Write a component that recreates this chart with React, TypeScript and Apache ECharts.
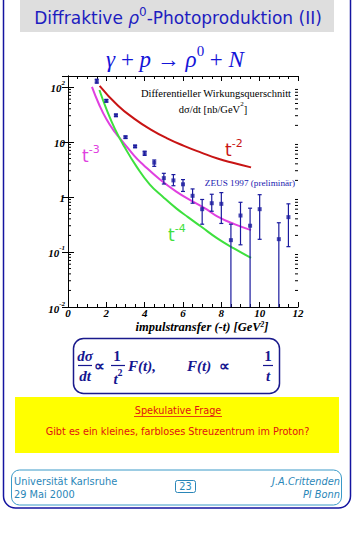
import React, { useEffect, useRef } from 'react';
import * as echarts from 'echarts';

// ZEUS 1997 (preliminär) data points: -t [GeV^2], dσ/dt [nb/GeV^2]
const tPoints = [1.5, 2, 2.5, 3, 3.5, 4, 4.5, 5, 5.5, 6, 6.5, 7, 7.5, 8, 8.5, 9, 9.5, 10, 11, 11.5];
const dsdt = [127, 56, 30.5, 12.2, 8.3, 6.3, 4.2, 2.2, 2.0, 1.7, 1.05, 0.6, 0.77, 0.75, 0.164, 0.46, 0.3, 0.6, 0.171, 0.43];
const errLow = [117, 53, 29, 11.6, 7.9, 5.7, 3.6, 1.72, 1.6, 1.26, 0.77, 0.32, 0.55, 0.33, 0.01, 0.135, 0.01, 0.17, 0.01, 0.125];
const errHigh = [138, 59, 32, 12.8, 8.7, 6.8, 4.7, 2.69, 2.55, 2.07, 1.4, 0.9, 1.12, 1.2, 0.32, 0.8, 0.625, 1.1, 0.34, 0.75];

// curve t^-2 (red)
const t2T = [1.65, 2.6, 3.45, 4.3, 5.2, 6.05, 6.95, 7.8, 8.7, 9.55];
const t2V = [105, 46, 26.6, 17, 11.5, 8.5, 6.4, 5.0, 4.1, 3.45];
// curve t^-3 (magenta)
const t3T = [1.25, 1.6, 2.0, 2.45, 2.89, 3.46, 3.91, 4.78, 5.65, 6.52, 7.22, 7.81, 8.68, 9.55];
const t3V = [100, 50, 26, 15, 9.75, 5.6, 3.9, 2.1, 1.25, 0.82, 0.6, 0.44, 0.32, 0.25];
// curve t^-4 (green)
const t4T = [1.64, 2.0, 2.44, 2.96, 3.57, 4.26, 4.96, 5.65, 6.26, 6.94, 7.81, 8.68, 9.55];
const t4V = [88, 40, 17.5, 8.0, 3.6, 1.7, 1.0, 0.62, 0.43, 0.29, 0.175, 0.115, 0.078];

const xTicks = [0, 2, 4, 6, 8, 10, 12];
const yMin = 0.01;
const yMax = 158;

const SERIF = "'Liberation Serif', 'Times New Roman', serif";
const SANS = "'DejaVu Sans', Verdana, sans-serif";
const DATA_BLUE = '#1a1a9e';

function zip(a: number[], b: number[]) {
  return a.map((v, i) => [v, b[i]]);
}

// minor tick positions of the log axis (2..9 per decade)
const minorVals: number[] = [];
for (let d = -2; d <= 2; d++) {
  for (let k = 2; k <= 9; k++) {
    const v = k * Math.pow(10, d);
    if (v < yMax) minorVals.push(v);
  }
}

function yLabel(v: number) {
  const e = Math.round(Math.log10(v));
  const p = Math.pow(10, e);
  if (Math.abs(v - p) / p > 1e-6) return '';
  if (e === 0) return '{b|1}';
  if (e === 1) return '{b|10}';
  return '{b|10}{s|' + e + '}';
}

const labelRich = {
  b: { fontFamily: SERIF, fontStyle: 'italic', fontWeight: 'bold', fontSize: 11, lineHeight: 14, verticalAlign: 'bottom', color: '#000' },
  s: { fontFamily: SERIF, fontStyle: 'italic', fontWeight: 'bold', fontSize: 7, lineHeight: 8, verticalAlign: 'top', color: '#000' },
};

function supText(x: number, y: number, text: string, color: string, size: number, supSize: number, family: string, align = 'left', extra: any = {}, lh = 4) {
  return {
    type: 'text',
    x,
    y,
    silent: true,
    style: {
      text,
      align,
      verticalAlign: 'middle',
      fill: color,
      rich: {
        n: { fontFamily: family, fontSize: size, fill: color, lineHeight: size + lh, verticalAlign: 'bottom', ...extra },
        i: { fontFamily: family, fontSize: size, fill: color, fontStyle: 'italic', lineHeight: size + lh, verticalAlign: 'bottom', ...extra },
        s: { fontFamily: family, fontSize: supSize, fill: color, lineHeight: supSize + 1, verticalAlign: 'top', ...extra },
      },
    },
  };
}

function plainText(x: number, y: number, text: string, color: string, size: number, family: string, align = 'center', extra: any = {}) {
  return {
    type: 'text',
    x,
    y,
    silent: true,
    style: { text, fill: color, fontSize: size, fontFamily: family, align, verticalAlign: 'middle', ...extra },
  };
}

function hline(x1: number, x2: number, y: number, color: string, w = 1) {
  return { type: 'line', silent: true, shape: { x1, y1: y, x2, y2: y }, style: { stroke: color, lineWidth: w } };
}

const FORM = '#161690';
const formFont = { fontWeight: 'bold', fontStyle: 'italic' };
const TEAL = '#2a86b8';
const RED_TXT = '#e01010';

export default function App() {
  const ref = useRef<HTMLDivElement>(null);
  useEffect(() => {
    const chart = echarts.init(ref.current!, null, { renderer: 'svg' });
    const axisBlack = { color: '#000', width: 1 };
    const option: any = {
      animation: false,
      backgroundColor: '#fff',
      grid: { left: 68, top: 76, width: 230, height: 231 },
      xAxis: [
        {
          type: 'value', min: xTicks[0], max: xTicks[xTicks.length - 1], interval: 2, position: 'bottom',
          axisLine: { show: true, lineStyle: axisBlack },
          axisTick: { inside: true, length: 5, lineStyle: axisBlack },
          minorTick: { show: true, splitNumber: 4, length: 3, lineStyle: axisBlack },
          splitLine: { show: false },
          axisLabel: { margin: 0, fontFamily: SERIF, fontStyle: 'italic', fontWeight: 'bold', fontSize: 11, lineHeight: 11, color: '#000' },
        },
        {
          type: 'value', min: xTicks[0], max: xTicks[xTicks.length - 1], interval: 2, position: 'top',
          axisLine: { show: true, lineStyle: axisBlack },
          axisTick: { inside: true, length: 5, lineStyle: axisBlack },
          minorTick: { show: true, splitNumber: 4, length: 3, lineStyle: axisBlack },
          splitLine: { show: false },
          axisLabel: { show: false },
        },
      ],
      yAxis: [
        {
          type: 'log', min: yMin, max: yMax, position: 'left',
          axisLine: { show: true, lineStyle: axisBlack },
          axisTick: { inside: true, length: 6, lineStyle: axisBlack },
          splitLine: { show: false },
          axisLabel: { margin: 3, formatter: yLabel, rich: labelRich, showMaxLabel: false },
        },
        {
          type: 'log', min: yMin, max: yMax, position: 'right',
          axisLine: { show: true, lineStyle: axisBlack },
          axisTick: { inside: true, length: 6, lineStyle: axisBlack },
          splitLine: { show: false },
          axisLabel: { show: false },
        },
      ],
      series: [
        {
          type: 'line', data: zip(t2T, t2V), smooth: true, showSymbol: false, symbol: 'none',
          lineStyle: { color: '#c81414', width: 2 }, z: 2,
        },
        {
          type: 'line', data: zip(t3T, t3V), smooth: true, showSymbol: false, symbol: 'none',
          lineStyle: { color: '#e040e0', width: 2 }, z: 2,
        },
        {
          type: 'line', data: zip(t4T, t4V), smooth: true, showSymbol: false, symbol: 'none',
          lineStyle: { color: '#3ee03e', width: 2 }, z: 2,
        },
        {
          type: 'custom',
          data: tPoints.map((t, i) => [t, errLow[i], errHigh[i]]),
          encode: { x: 0, y: [1, 2] },
          z: 3,
          silent: true,
          renderItem: (params: any, api: any) => {
            const x = api.value(0);
            const lo = api.value(1);
            const hi = api.value(2);
            const p1 = api.coord([x, lo]);
            const p2 = api.coord([x, hi]);
            const st = { stroke: DATA_BLUE, lineWidth: 1.2 };
            const children: any[] = [
              { type: 'line', shape: { x1: p1[0], y1: p1[1], x2: p2[0], y2: p2[1] }, style: st },
              { type: 'line', shape: { x1: p2[0] - 2, y1: p2[1], x2: p2[0] + 2, y2: p2[1] }, style: st },
            ];
            if (lo > yMin) {
              children.push({ type: 'line', shape: { x1: p1[0] - 2, y1: p1[1], x2: p1[0] + 2, y2: p1[1] }, style: st });
            }
            return { type: 'group', children };
          },
        },
        {
          type: 'scatter', data: zip(tPoints, dsdt), symbol: 'rect', symbolSize: 4,
          itemStyle: { color: DATA_BLUE }, z: 4,
        },
        {
          type: 'custom',
          data: minorVals.map((v) => [xTicks[0], v]),
          encode: { x: 0, y: 1 },
          silent: true,
          z: 5,
          renderItem: (params: any, api: any) => {
            const v = api.value(1);
            const pl = api.coord([xTicks[0], v]);
            const pr = api.coord([xTicks[xTicks.length - 1], v]);
            const st = { stroke: '#000', lineWidth: 1 };
            return {
              type: 'group',
              children: [
                { type: 'line', shape: { x1: pl[0], y1: pl[1], x2: pl[0] + 3, y2: pl[1] }, style: st },
                { type: 'line', shape: { x1: pr[0] - 3, y1: pr[1], x2: pr[0], y2: pr[1] }, style: st },
              ],
            };
          },
        },
      ],
      graphic: [
        // outer frame
        { type: 'rect', silent: true, shape: { x: 3.5, y: -14, width: 347, height: 522, r: 12 }, style: { fill: 'none', stroke: '#1414a0', lineWidth: 1.5 } },
        // title bar
        { type: 'rect', silent: true, shape: { x: 20, y: 0, width: 314, height: 32 }, style: { fill: '#dedede' } },
        supText(178, 16, '{n|Diffraktive }{i|ρ}{s|0}{n|-Photoproduktion (II)}', '#1d1dc0', 17, 12, SANS, 'center'),
        // reaction
        supText(175, 57, '{i|γ}{n| + }{i|p}{n| → }{i|ρ}{s|0}{n| + }{i|N}', '#1414d8', 23, 15, SERIF, 'center'),
        // in-plot annotations
        plainText(216, 93, 'Differentieller Wirkungsquerschnitt', '#000', 10.5, SERIF),
        supText(213, 108, '{n|dσ/dt [nb/GeV}{s|2}{n|]}', '#000', 10.5, 7, SERIF, 'center'),
        supText(225, 148, '{n|t}{s|-2}', '#c81414', 17, 11, SANS, 'left'),
        supText(82, 154, '{n|t}{s|-3}', '#e040e0', 17, 11, SANS, 'left'),
        supText(168, 233, '{n|t}{s|-4}', '#3ee03e', 17, 11, SANS, 'left'),
        plainText(250, 183, 'ZEUS 1997 (preliminär)', '#2020b0', 9.2, SERIF),
        // x axis name
        supText(202, 327, '{n|impulstransfer (-t) [GeV}{s|2}{n|]}', '#000', 12.5, 7.5, SERIF, 'center', { fontWeight: 'bold', fontStyle: 'italic' }, 1),
        // formula box
        { type: 'rect', silent: true, shape: { x: 73.5, y: 338.5, width: 206, height: 55, r: 10 }, style: { fill: 'none', stroke: '#1a1a8c', lineWidth: 1.5 } },
        plainText(85, 356, 'dσ', FORM, 15, SERIF, 'center', formFont),
        hline(78, 92, 365.5, FORM, 1.2),
        plainText(85, 376, 'dt', FORM, 15, SERIF, 'center', formFont),
        plainText(99, 366, '∝', FORM, 15, SERIF, 'center', { fontWeight: 'bold' }),
        plainText(117, 356, '1', FORM, 15, SERIF, 'center', { fontWeight: 'bold' }),
        hline(111, 125, 365.5, FORM, 1.2),
        supText(118, 377, '{i|t}{s|2}', FORM, 15, 10, SERIF, 'center', { fontWeight: 'bold' }),
        plainText(128, 366, 'F(t),', FORM, 15, SERIF, 'left', formFont),
        plainText(187, 366, 'F(t)', FORM, 15, SERIF, 'left', formFont),
        plainText(224, 366, '∝', FORM, 15, SERIF, 'center', { fontWeight: 'bold' }),
        plainText(268, 356, '1', FORM, 15, SERIF, 'center', { fontWeight: 'bold' }),
        hline(263, 273, 365.5, FORM, 1.2),
        plainText(268, 376, 't', FORM, 15, SERIF, 'center', formFont),
        // yellow box
        { type: 'rect', silent: true, shape: { x: 15, y: 397, width: 324, height: 56 }, style: { fill: '#ffff00' } },
        plainText(178, 410.5, 'Spekulative Frage', RED_TXT, 9.7, SANS),
        hline(134, 222, 416.5, RED_TXT, 0.8),
        plainText(177.5, 431.5, 'Gibt es ein kleines, farbloses Streuzentrum im Proton?', RED_TXT, 9.7, SANS),
        // footer
        { type: 'rect', silent: true, shape: { x: 11.5, y: 470, width: 330, height: 35, r: 8 }, style: { fill: 'none', stroke: '#3a9ac8', lineWidth: 1 } },
        plainText(14, 481.5, 'Universität Karlsruhe', TEAL, 9.8, SANS, 'left'),
        plainText(14, 494.5, '29 Mai 2000', TEAL, 9.8, SANS, 'left'),
        { type: 'rect', silent: true, shape: { x: 175.5, y: 480.5, width: 20, height: 12, r: 2 }, style: { fill: 'none', stroke: TEAL, lineWidth: 1 } },
        plainText(185.5, 486.5, '23', TEAL, 9.8, SANS),
        plainText(340, 481.5, 'J.A.Crittenden', TEAL, 9.8, SANS, 'right', { fontStyle: 'italic' }),
        plainText(340, 494.5, 'PI Bonn', TEAL, 9.8, SANS, 'right', { fontStyle: 'italic' }),
      ],
    };
    chart.setOption(option);
    return () => chart.dispose();
  }, []);
  return (
    <div
      ref={ref}
      style={{ position: 'absolute', left: 0, top: 0, width: 363, height: 535, background: '#fff' }}
    />
  );
}
